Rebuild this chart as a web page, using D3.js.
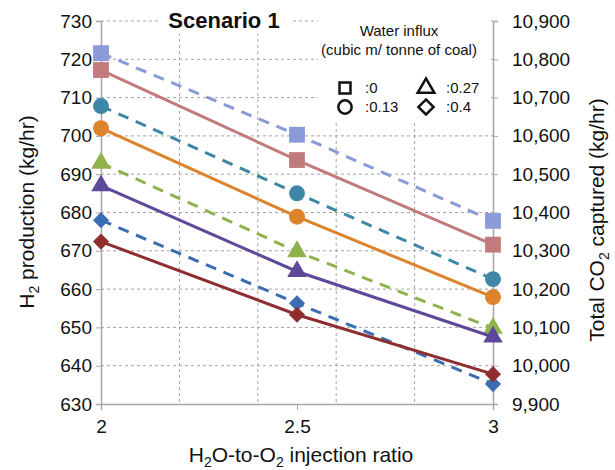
<!DOCTYPE html>
<html>
<head>
<meta charset="utf-8">
<script src="https://cdn.jsdelivr.net/npm/d3@7"></script>
<style>
  body { margin: 0; background: #fff; }
  text { font-family: Arial, "Liberation Sans", sans-serif; fill: #111; }
</style>
</head>
<body>
<div id="chart"></div>
<script>
  // data
  const ratios = [2, 2.5, 3];
  const influxLabels = ["0", "0.13", "0.27", "0.4"];

  // H2 production (kg/hr), left axis, solid lines
  const h2W0 = [717.2, 693.7, 671.6];
  const h2W13 = [702.0, 678.9, 657.9];
  const h2W27 = [687.0, 664.6, 647.5];
  const h2W40 = [672.4, 653.3, 637.8];

  // total CO2 captured (kg/hr), right axis, dashed lines
  const co2W0 = [10816, 10603, 10378];
  const co2W13 = [10678, 10450, 10226];
  const co2W27 = [10529, 10298, 10098];
  const co2W40 = [10380, 10163, 9952];

  const leftTicks = [630, 640, 650, 660, 670, 680, 690, 700, 710, 720, 730];
  const rightTicks = [9900, 10000, 10100, 10200, 10300, 10400, 10500, 10600, 10700, 10800, 10900];
  const xTicks = [2, 2.5, 3];
  const xGrid = [2.2, 2.4, 2.6, 2.8];

  const svgWidth = 615;
  const svgHeight = 470;
  const margin = { top: 21, right: 122, bottom: 66, left: 101 };
  const width = svgWidth - margin.left - margin.right;
  const height = svgHeight - margin.top - margin.bottom;

  const svg = d3.select("#chart")
    .append("svg")
    .attr("width", svgWidth)
    .attr("height", svgHeight);

  const chartGroup = svg.append("g")
    .attr("transform", `translate(${margin.left}, ${margin.top})`);

  const xScale = d3.scaleLinear().domain([2, 3]).range([0, width]);
  const yLeft = d3.scaleLinear().domain([630, 730]).range([height, 0]);
  const yRight = d3.scaleLinear().domain([9900, 10900]).range([height, 0]);

  // gridlines
  chartGroup.append("g").selectAll("line")
    .data(leftTicks.slice(1))
    .enter().append("line")
    .attr("x1", 0).attr("x2", width)
    .attr("y1", d => yLeft(d)).attr("y2", d => yLeft(d))
    .attr("stroke", "#a3a3a3").attr("stroke-width", 1)
    .attr("stroke-dasharray", "3,3");

  chartGroup.append("g").selectAll("line")
    .data(xGrid)
    .enter().append("line")
    .attr("x1", d => xScale(d)).attr("x2", d => xScale(d))
    .attr("y1", 0).attr("y2", height)
    .attr("stroke", "#a3a3a3").attr("stroke-width", 1)
    .attr("stroke-dasharray", "3,3");

  // white boxes behind title and legend
  chartGroup.append("rect")
    .attr("x", 57).attr("y", -margin.top)
    .attr("width", 132).attr("height", 34)
    .attr("fill", "#fff");
  chartGroup.append("rect")
    .attr("x", 217).attr("y", -margin.top)
    .attr("width", 170).attr("height", 122)
    .attr("fill", "#fff");

  // axes
  const leftAxis = d3.axisLeft(yLeft).tickValues(leftTicks).tickSize(5).tickPadding(4);
  const rightAxis = d3.axisRight(yRight).tickValues(rightTicks).tickSize(5).tickPadding(14)
    .tickFormat(d3.format(","));
  const bottomAxis = d3.axisBottom(xScale).tickValues(xTicks).tickSize(6).tickPadding(10)
    .tickFormat(d3.format("~g"));

  function styleAxis(g) {
    g.select(".domain").attr("stroke", "#a6a6a6").attr("stroke-width", 1.5);
    g.selectAll(".tick line").attr("stroke", "#a6a6a6").attr("stroke-width", 1);
    g.selectAll(".tick text")
      .style("font-size", "19px")
      .style("font-family", "Arial, 'Liberation Sans', sans-serif")
      .attr("fill", "#111");
  }

  chartGroup.append("g").call(leftAxis).call(styleAxis);
  chartGroup.append("g")
    .attr("transform", `translate(${width}, 0)`)
    .call(rightAxis).call(styleAxis);
  chartGroup.append("g")
    .attr("transform", `translate(0, ${height})`)
    .call(bottomAxis).call(styleAxis);

  // series
  const co2Series = [
    { values: co2W0, color: "#8a9bd8", shape: "square" },
    { values: co2W13, color: "#3f87a8", shape: "circle" },
    { values: co2W27, color: "#8fb24c", shape: "triangle" },
    { values: co2W40, color: "#3b6db3", shape: "diamond" }
  ];
  const h2Series = [
    { values: h2W0, color: "#c27b7c", shape: "square" },
    { values: h2W13, color: "#dc832c", shape: "circle" },
    { values: h2W27, color: "#5e489a", shape: "triangle" },
    { values: h2W40, color: "#8f2e30", shape: "diamond" }
  ];

  const symbols = {
    square: d3.symbol().type(d3.symbolSquare).size(250),
    circle: d3.symbol().type(d3.symbolCircle).size(200),
    triangle: d3.symbol().type(d3.symbolTriangle).size(165),
    diamond: d3.symbol().type(d3.symbolSquare).size(130)
  };

  function drawSeries(s, yScale, dashed) {
    const pts = ratios.map((r, i) => [xScale(r), yScale(s.values[i])]);
    chartGroup.append("path")
      .attr("d", d3.line()(pts))
      .attr("fill", "none")
      .attr("stroke", s.color)
      .attr("stroke-width", 3)
      .attr("stroke-dasharray", dashed ? "11,8" : null);
    chartGroup.append("g").selectAll("path")
      .data(pts)
      .enter().append("path")
      .attr("d", symbols[s.shape]())
      .attr("transform", d => `translate(${d[0]}, ${d[1]})` + (s.shape === "diamond" ? " rotate(45)" : ""))
      .attr("fill", s.color);
  }

  co2Series.forEach(s => drawSeries(s, yRight, true));
  h2Series.forEach(s => drawSeries(s, yLeft, false));

  // title
  svg.append("text")
    .attr("x", 224).attr("y", 28)
    .attr("text-anchor", "middle")
    .style("font-size", "22px").style("font-weight", "bold")
    .text("Scenario 1");

  // axis titles
  const yTitle = svg.append("text")
    .attr("transform", "translate(34, 212) rotate(-90)")
    .attr("text-anchor", "middle")
    .style("font-size", "21px");
  yTitle.append("tspan").text("H");
  yTitle.append("tspan").attr("dy", 5).style("font-size", "14px").text("2");
  yTitle.append("tspan").attr("dy", -5).text(" production (kg/hr)");

  const y2Title = svg.append("text")
    .attr("transform", "translate(604, 220) rotate(-90)")
    .attr("text-anchor", "middle")
    .style("font-size", "21px");
  y2Title.append("tspan").text("Total CO");
  y2Title.append("tspan").attr("dy", 5).style("font-size", "14px").text("2");
  y2Title.append("tspan").attr("dy", -5).text(" captured  (kg/hr)");

  const xTitle = svg.append("text")
    .attr("x", 301).attr("y", 462)
    .attr("text-anchor", "middle")
    .style("font-size", "21px");
  xTitle.append("tspan").text("H");
  xTitle.append("tspan").attr("dy", 5).style("font-size", "14px").text("2");
  xTitle.append("tspan").attr("dy", -5).text("O-to-O");
  xTitle.append("tspan").attr("dy", 5).style("font-size", "14px").text("2");
  xTitle.append("tspan").attr("dy", -5).text(" injection ratio");

  // legend
  const legend = svg.append("g");
  legend.append("text")
    .attr("x", 399).attr("y", 36)
    .attr("text-anchor", "middle")
    .style("font-size", "15px")
    .text("Water influx");
  legend.append("text")
    .attr("x", 399).attr("y", 55)
    .attr("text-anchor", "middle")
    .style("font-size", "15px")
    .text("(cubic m/ tonne of coal)");

  const legendShapes = ["square", "circle", "triangle", "diamond"];
  const legendSymbols = {
    square: d3.symbol().type(d3.symbolSquare).size(120),
    circle: d3.symbol().type(d3.symbolCircle).size(140),
    triangle: d3.symbol().type(d3.symbolTriangle).size(120),
    diamond: d3.symbol().type(d3.symbolSquare).size(115)
  };
  const legendPos = [[345, 88], [345, 107], [426, 88], [426, 107]];

  legendShapes.forEach((shape, i) => {
    const [lx, ly] = legendPos[i];
    legend.append("path")
      .attr("d", legendSymbols[shape]())
      .attr("transform", `translate(${lx}, ${ly})` + (shape === "diamond" ? " rotate(45)" : ""))
      .attr("fill", "none")
      .attr("stroke", "#111")
      .attr("stroke-width", 2.5);
    legend.append("text")
      .attr("x", lx + 20).attr("y", ly + 5)
      .style("font-size", "15px")
      .text(":" + influxLabels[i]);
  });
</script>
</body>
</html>
